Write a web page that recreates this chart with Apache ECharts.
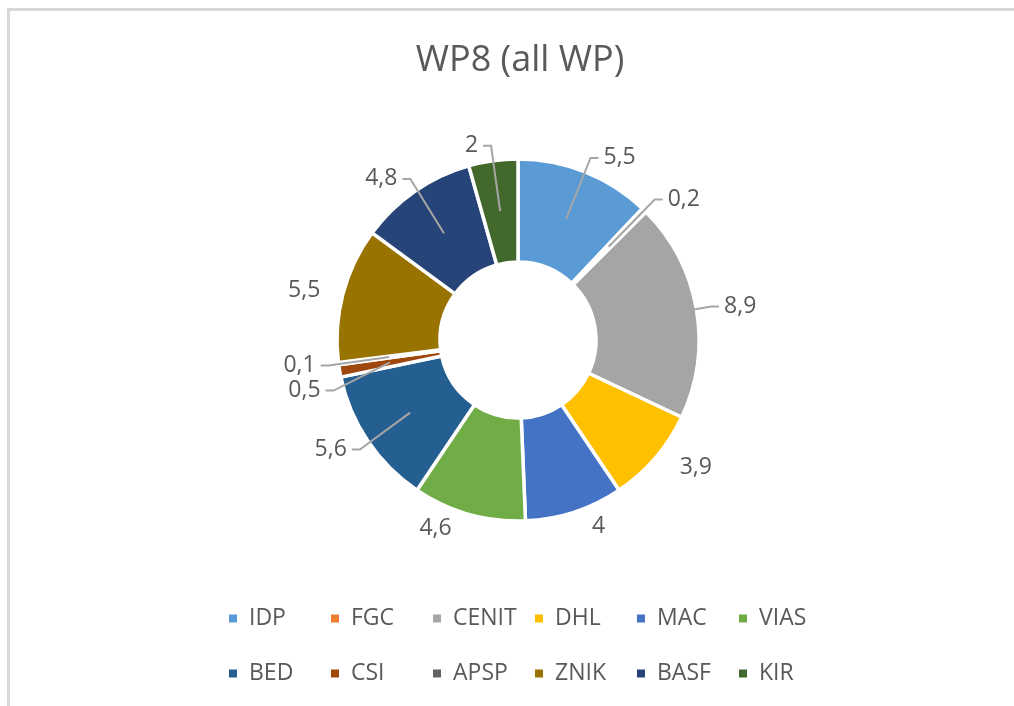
<!DOCTYPE html>
<html>
<head>
<meta charset="utf-8">
<script src="https://cdn.jsdelivr.net/npm/echarts@6/dist/echarts.min.js"></script>
<style>
html,body{margin:0;padding:0;background:#fff;}
#chart{width:1014px;height:706px;}
</style>
</head>
<body>
<div id="chart"></div>
<script>
const categories = ['IDP','FGC','CENIT','DHL','MAC','VIAS','BED','CSI','APSP','ZNIK','BASF','KIR'];
const values = [5.5, 0.2, 8.9, 3.9, 4, 4.6, 5.6, 0.5, 0.1, 5.5, 4.8, 2];
const colors = ['#5B9BD5','#ED7D31','#A5A5A5','#FFC000','#4472C4','#70AD47','#255E91','#9E480E','#636363','#997300','#264478','#43682B'];
const noLeader = ['DHL','MAC','VIAS','ZNIK'];

const fmt = v => String(v).replace('.', ',');
const data = categories.map((c, i) => ({ name: c, value: values[i] }));
const labelData = categories.map((c, i) => ({
  name: c, value: values[i],
  labelLine: { show: noLeader.indexOf(c) < 0 }
}));

const chart = echarts.init(document.getElementById('chart'));
const FONT = '"Open Sans", sans-serif';
const legends = categories.map((c, i) => ({
  orient: 'horizontal',
  left: 222 + 102 * (i % 6),
  top: i < 6 ? 602 : 657,
  itemWidth: 10, itemHeight: 10,
  icon: 'rect',
  data: [c],
  textStyle: { fontFamily: FONT, fontSize: 23, color: '#595959', padding: [0,0,0,6] }
}));
chart.setOption({
  color: colors,
  animation: false,
  title: {
    text: 'WP8 (all WP)',
    left: 515,
    textAlign: 'center',
    top: 38,
    textStyle: { fontFamily: FONT, fontSize: 36, fontWeight: 'normal', color: '#595959' }
  },
  graphic: [
    { type: 'line', shape: { x1: 7, y1: 9.5, x2: 1014, y2: 9.5 }, style: { stroke: '#D9D9D9', lineWidth: 3 } },
    { type: 'line', shape: { x1: 8.5, y1: 8, x2: 8.5, y2: 706 }, style: { stroke: '#D9D9D9', lineWidth: 3 } }
  ],
  legend: legends,
  series: [
    {
      type: 'pie',
      z: 2,
      center: [518, 340],
      radius: [78, 181],
      startAngle: 90,
      clockwise: true,
      label: { show: false },
      labelLine: { show: false },
      itemStyle: { borderColor: '#fff', borderWidth: 3.5 },
      emphasis: { disabled: true },
      data: data
    },
    {
      type: 'pie',
      z: 5,
      center: [518, 340],
      radius: [0, 130],
      startAngle: 90,
      clockwise: true,
      silent: true,
      itemStyle: { color: 'rgba(0,0,0,0)' },
      label: {
        show: true,
        position: 'outside',
        formatter: p => fmt(p.value),
        fontFamily: FONT, fontSize: 23, color: '#595959'
      },
      labelLine: { show: true, length: 66, length2: 8, smooth: false, lineStyle: { color: '#A6A6A6', width: 2 } },
      emphasis: { disabled: true },
      data: labelData
    }
  ]
});
</script>
</body>
</html>
